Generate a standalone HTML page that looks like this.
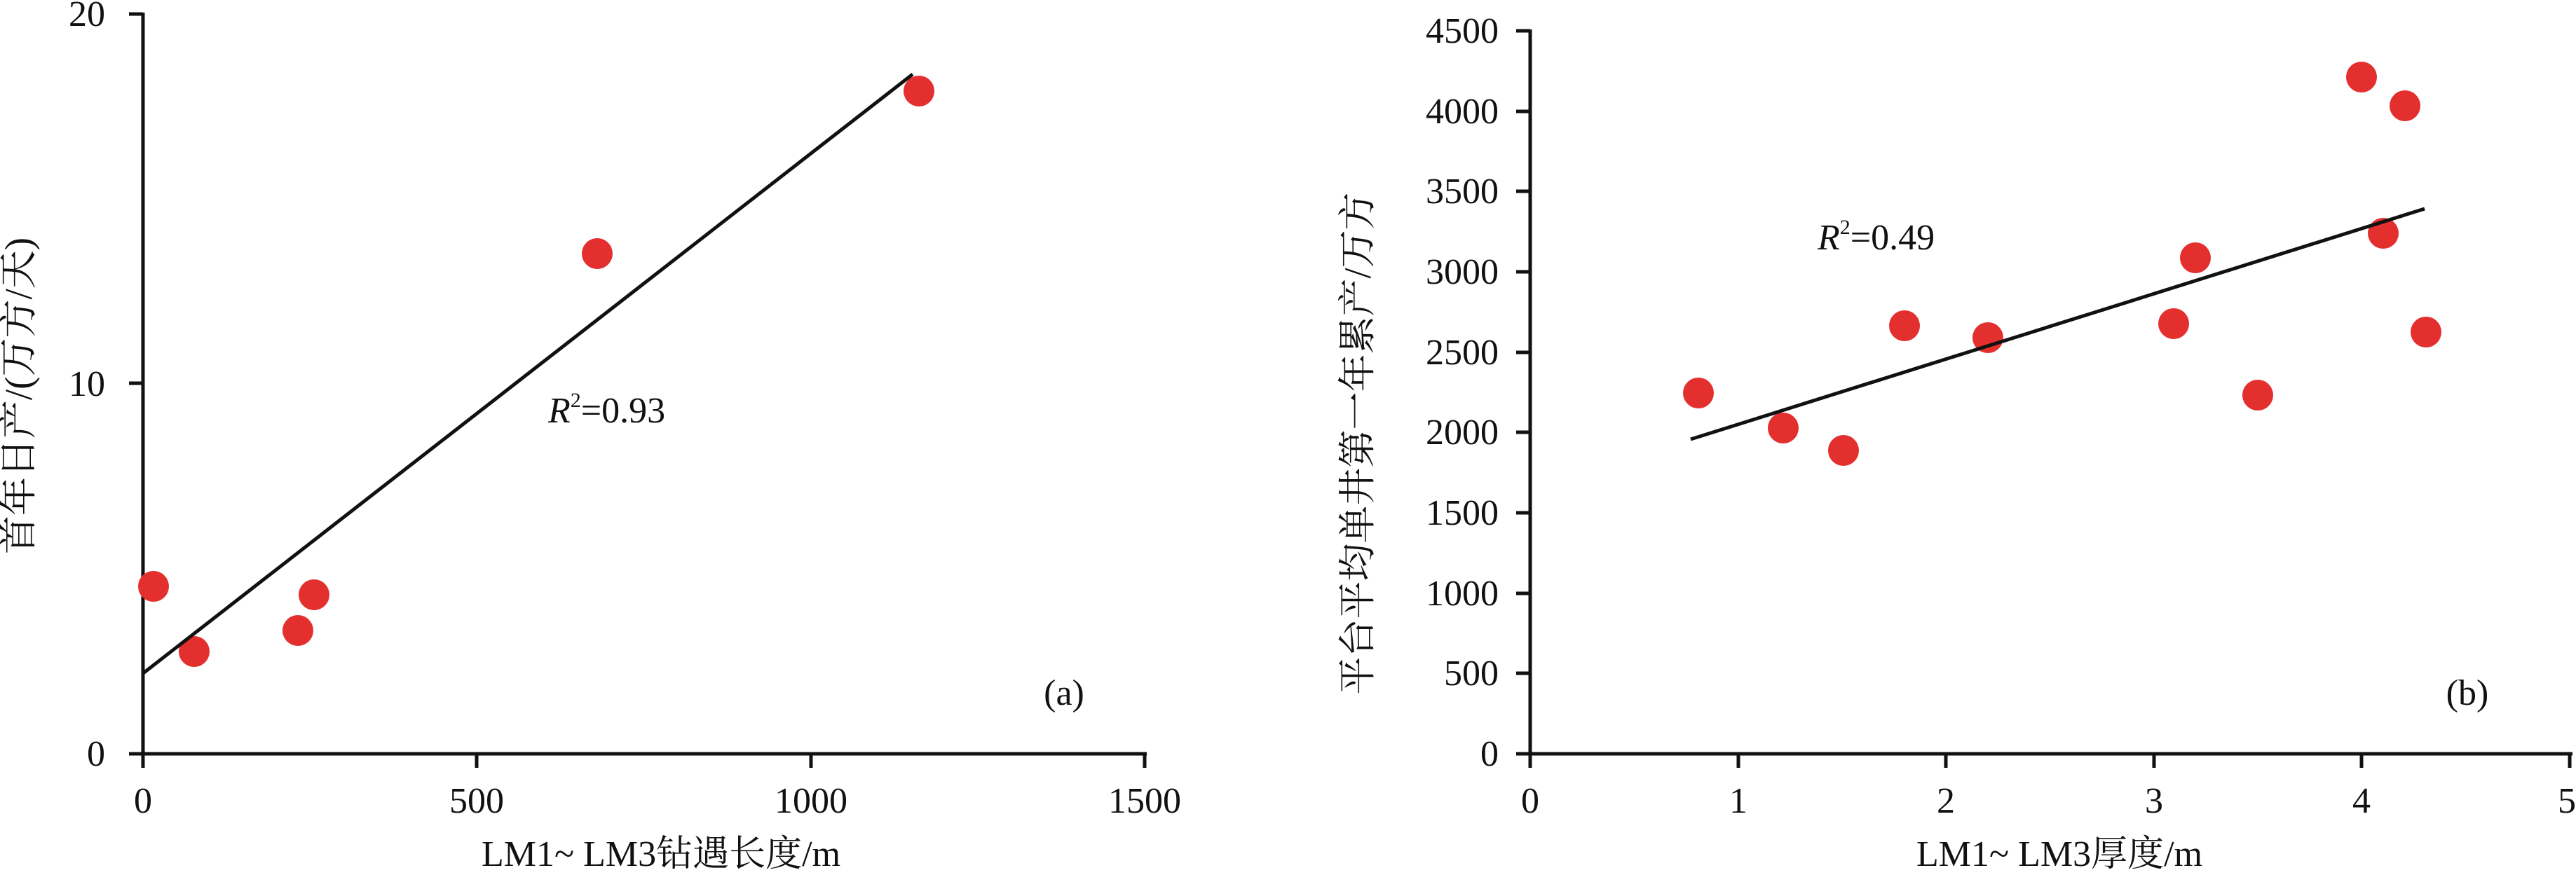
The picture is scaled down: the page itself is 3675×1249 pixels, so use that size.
<!DOCTYPE html>
<html><head><meta charset="utf-8"><style>
html,body{margin:0;padding:0;background:#fff;}
svg{display:block;}
text{font-family:"Liberation Serif","Noto Serif CJK SC",serif;fill:#111;}
</style></head><body>
<svg width="3675" height="1249" viewBox="0 0 3675 1249" xmlns="http://www.w3.org/2000/svg">
<!-- Left chart -->
<g stroke="#111" stroke-width="5" fill="none">
<line x1="204" y1="18" x2="204" y2="1078"/>
<line x1="202" y1="1076" x2="1636" y2="1076"/>
<line x1="184" y1="20" x2="204" y2="20"/>
<line x1="184" y1="547" x2="204" y2="547"/>
<line x1="184" y1="1076" x2="204" y2="1076"/>
<line x1="204" y1="1076" x2="204" y2="1096"/>
<line x1="680" y1="1076" x2="680" y2="1096"/>
<line x1="1157" y1="1076" x2="1157" y2="1096"/>
<line x1="1633" y1="1076" x2="1633" y2="1096"/>
</g>
<g font-size="52" text-anchor="end">
<text x="150" y="37">20</text>
<text x="150" y="565">10</text>
<text x="150" y="1093">0</text>
</g>
<g font-size="52" text-anchor="middle">
<text x="204" y="1160">0</text>
<text x="680" y="1160">500</text>
<text x="1157" y="1160">1000</text>
<text x="1633" y="1160">1500</text>
</g>
<g fill="#e3302f">
<circle cx="219" cy="837" r="22"/>
<circle cx="277" cy="930" r="22"/>
<circle cx="425" cy="900" r="22"/>
<circle cx="448" cy="849" r="22"/>
<circle cx="852" cy="362" r="22"/>
<circle cx="1311" cy="130" r="22"/>
</g>
<line x1="203" y1="962" x2="1302" y2="106" stroke="#111" stroke-width="5"/>
<text x="782" y="603" font-size="52"><tspan font-style="italic">R</tspan><tspan font-size="30" dy="-22">2</tspan><tspan dy="22">=0.93</tspan></text>
<text x="1518" y="1006" font-size="52" text-anchor="middle">(a)</text>
<text x="943" y="1236" font-size="52" text-anchor="middle">LM1~ LM3钻遇长度/m</text>
<text transform="translate(45,565) rotate(-90)" font-size="55" text-anchor="middle">首年日产/(万方/天)</text>

<!-- Right chart -->
<g stroke="#111" stroke-width="5" fill="none">
<line x1="2183" y1="42" x2="2183" y2="1078"/>
<line x1="2181" y1="1076" x2="3670" y2="1076"/>
<line x1="2183" y1="1076" x2="2183" y2="1096"/>
<line x1="2480" y1="1076" x2="2480" y2="1096"/>
<line x1="2776" y1="1076" x2="2776" y2="1096"/>
<line x1="3073" y1="1076" x2="3073" y2="1096"/>
<line x1="3369" y1="1076" x2="3369" y2="1096"/>
<line x1="3666" y1="1076" x2="3666" y2="1096"/>
<line x1="2163" y1="1076" x2="2183" y2="1076"/>
<line x1="2163" y1="961" x2="2183" y2="961"/>
<line x1="2163" y1="847" x2="2183" y2="847"/>
<line x1="2163" y1="732" x2="2183" y2="732"/>
<line x1="2163" y1="617" x2="2183" y2="617"/>
<line x1="2163" y1="503" x2="2183" y2="503"/>
<line x1="2163" y1="388" x2="2183" y2="388"/>
<line x1="2163" y1="273" x2="2183" y2="273"/>
<line x1="2163" y1="159" x2="2183" y2="159"/>
<line x1="2163" y1="44" x2="2183" y2="44"/>
</g>
<g font-size="52" text-anchor="end">
<text x="2138" y="1093">0</text>
<text x="2138" y="978">500</text>
<text x="2138" y="864">1000</text>
<text x="2138" y="749">1500</text>
<text x="2138" y="634">2000</text>
<text x="2138" y="520">2500</text>
<text x="2138" y="405">3000</text>
<text x="2138" y="290">3500</text>
<text x="2138" y="176">4000</text>
<text x="2138" y="61">4500</text>
</g>
<g font-size="52" text-anchor="middle">
<text x="2183" y="1160">0</text>
<text x="2480" y="1160">1</text>
<text x="2776" y="1160">2</text>
<text x="3073" y="1160">3</text>
<text x="3369" y="1160">4</text>
<text x="3662" y="1160">5</text>
</g>
<g fill="#e3302f">
<circle cx="2423" cy="561" r="22"/>
<circle cx="2544" cy="611" r="22"/>
<circle cx="2630" cy="643" r="22"/>
<circle cx="2717" cy="465" r="22"/>
<circle cx="2836" cy="482" r="22"/>
<circle cx="3101" cy="462" r="22"/>
<circle cx="3132" cy="368" r="22"/>
<circle cx="3221" cy="564" r="22"/>
<circle cx="3369" cy="110" r="22"/>
<circle cx="3431" cy="151" r="22"/>
<circle cx="3400" cy="333" r="22"/>
<circle cx="3461" cy="474" r="22"/>
</g>
<line x1="2412" y1="627" x2="3459" y2="298" stroke="#111" stroke-width="5"/>
<text x="2593" y="356" font-size="52"><tspan font-style="italic">R</tspan><tspan font-size="30" dy="-22">2</tspan><tspan dy="22">=0.49</tspan></text>
<text x="3520" y="1006" font-size="52" text-anchor="middle">(b)</text>
<text x="2938" y="1236" font-size="52" text-anchor="middle">LM1~ LM3厚度/m</text>
<text transform="translate(1955,633) rotate(-90)" font-size="54" text-anchor="middle">平台平均单井第一年累产/万方</text>
</svg>
</body></html>
